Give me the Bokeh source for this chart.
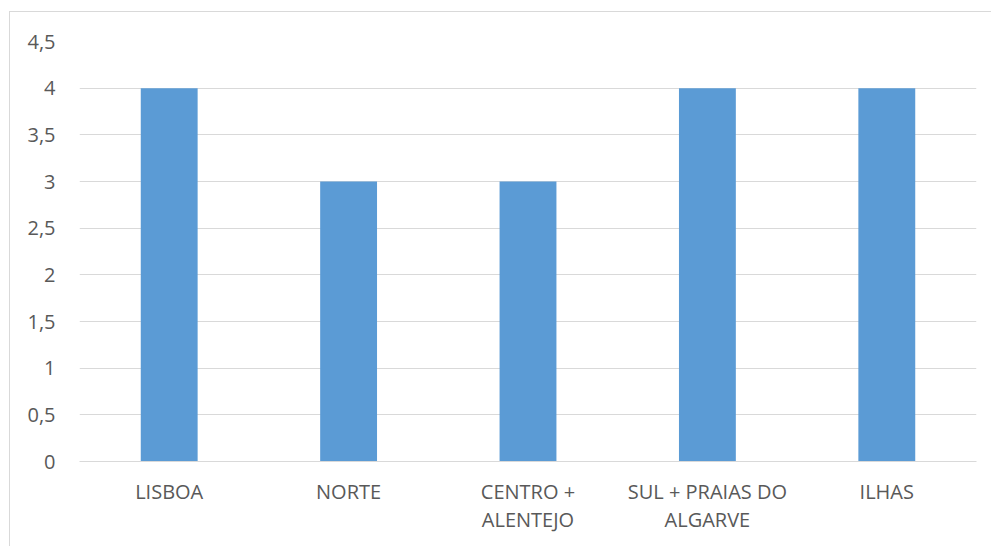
from bokeh.plotting import figure
from bokeh.models import FactorRange, Range1d, FixedTicker
from bokeh.embed import file_html
from bokeh.resources import INLINE

categories = ["LISBOA", "NORTE", "CENTRO +\nALENTEJO", "SUL + PRAIAS DO\nALGARVE", "ILHAS"]
values = [4, 3, 3, 4, 4]
y_ticks = [0, 0.5, 1, 1.5, 2, 2.5, 3, 3.5, 4, 4.5]
y_tick_labels = ["0", "0,5", "1", "1,5", "2", "2,5", "3", "3,5", "4", "4,5"]

FONT = "Open Sans"
TXT = "#595959"
GRID = "#d9d9d9"

p = figure(
    x_range=FactorRange(*categories),
    y_range=Range1d(0, 4.5),
    width=982, height=535,
    output_backend="svg", toolbar_location=None,
    min_border_left=69, min_border_right=16, min_border_top=29, min_border_bottom=86,
    margin=(11, 0, 0, 9),
)
p.styles = {"border-left": "1px solid #d9d9d9", "border-top": "1px solid #d9d9d9"}
p.outline_line_color = None
p.background_fill_color = "white"
p.border_fill_color = "white"

p.vbar(x=categories, top=values, width=0.317, fill_color="#5B9BD5", line_color=None)

p.xgrid.grid_line_color = None
p.ygrid.grid_line_color = GRID
p.ygrid.grid_line_width = 1

p.yaxis.ticker = FixedTicker(ticks=y_ticks)
p.yaxis.major_label_overrides = {t: l for t, l in zip(y_ticks, y_tick_labels)}
p.yaxis.axis_line_color = None
p.yaxis.major_tick_line_color = None
p.yaxis.minor_tick_line_color = None
p.yaxis.major_label_standoff = 18
p.yaxis.major_label_text_font = FONT
p.yaxis.major_label_text_font_size = "20px"
p.yaxis.major_label_text_color = TXT

p.xaxis.axis_line_color = GRID
p.xaxis.major_tick_line_color = None
p.xaxis.minor_tick_line_color = None
p.xaxis.major_label_standoff = 10
p.xaxis.major_label_text_font = FONT
p.xaxis.major_label_text_font_size = "20px"
p.xaxis.major_label_text_color = TXT
p.xaxis.major_label_text_line_height = 1.05

open("out.html", "w").write(file_html(p, INLINE))
